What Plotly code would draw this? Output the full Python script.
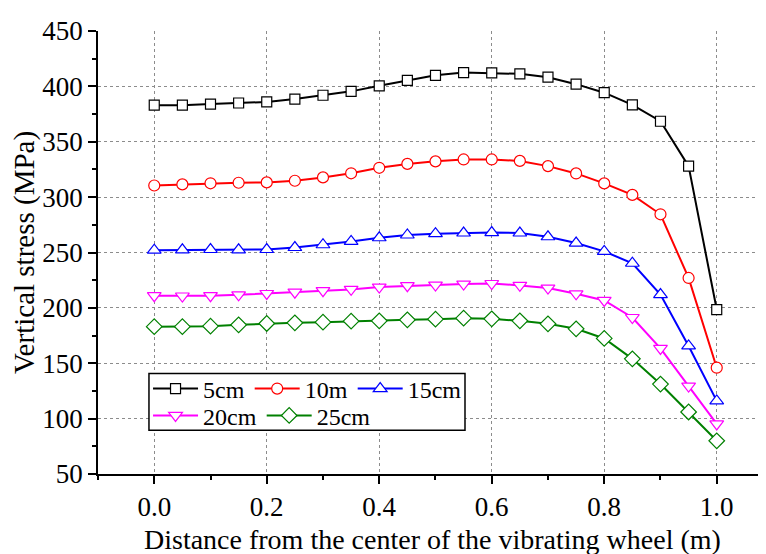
import plotly.graph_objects as go

distance = [0.0, 0.05, 0.1, 0.15, 0.2, 0.25, 0.3, 0.35, 0.4, 0.45, 0.5,
            0.55, 0.6, 0.65, 0.7, 0.75, 0.8, 0.85, 0.9, 0.95, 1.0]

s5cm = [383, 383, 384, 385, 386, 388.5, 392, 395.5, 400.5, 405.5, 410,
        412.5, 412.2, 411.3, 408.3, 402, 394.3, 383.3, 368.5, 328, 198.5]
s10m = [310.5, 311.5, 312.5, 313, 313.3, 314.8, 317.8, 321.5, 326.5, 330, 332.3,
        334, 334, 332.7, 328, 321.4, 312.4, 302, 284.5, 227, 146]
s15cm = [252.1, 252.4, 252.7, 252.4, 252.7, 254.5, 257, 260, 263.3, 265.8, 267,
         267.6, 268, 267.6, 264.2, 258.5, 251, 240.3, 212, 165.6, 116]
s20cm = [211, 210.7, 211, 211.8, 213, 214.2, 215.5, 216.7, 218.8, 220, 220.6,
         221.5, 222, 220.3, 217.9, 212.7, 206.7, 191.3, 163.4, 129.4, 95.2]
s25cm = [183, 183, 183.5, 184.7, 185.9, 186.5, 187.1, 188, 188.3, 189.2, 189.8,
         190.7, 190.1, 188.3, 185.6, 181.1, 172.4, 154, 131.2, 106, 80]

series_names = ["5cm", "10m", "15cm", "20cm", "25cm"]
series_values = [s5cm, s10m, s15cm, s20cm, s25cm]
series_colors = ["#000000", "#FF0000", "#0000FF", "#FF00FF", "#008000"]
series_symbols = ["square", "circle", "triangle-up", "triangle-down", "diamond"]
series_sizes = [10, 11, 12, 12, 12]
series_legend = ["legend", "legend", "legend", "legend2", "legend2"]

x_ticks = [0.0, 0.2, 0.4, 0.6, 0.8, 1.0]
x_ticklabels = ["0.0", "0.2", "0.4", "0.6", "0.8", "1.0"]
y_ticks = [50, 100, 150, 200, 250, 300, 350, 400, 450]
x_title = "Distance from the center of the vibrating wheel (m)"
y_title = "Vertical stress (MPa)"

FONT = "Liberation Serif, Times New Roman, serif"

fig = go.Figure()
for name, vals, col, sym, sz, lg in zip(series_names, series_values, series_colors,
                                         series_symbols, series_sizes, series_legend):
    fig.add_trace(go.Scatter(
        x=distance, y=vals, name=name, mode="lines+markers",
        line=dict(color=col, width=2),
        marker=dict(symbol=sym, size=sz, color="white",
                    line=dict(color=col, width=1.2)),
        legend=lg,
    ))

grid = dict(showgrid=True, gridcolor="#8c8c8c", gridwidth=1, griddash="3px,3px")

fig.update_layout(
    width=766, height=554,
    margin=dict(l=90, r=8, t=21, b=88),
    paper_bgcolor="white", plot_bgcolor="white",
    font=dict(family=FONT, size=27, color="black"),
    xaxis=dict(
        range=[-0.1, 1.0876], tickvals=x_ticks, ticktext=x_ticklabels,
        ticks="outside", ticklen=8, tickwidth=1.5, tickcolor="black",
        tickfont=dict(size=27),
        showline=True, linecolor="black", linewidth=1.5,
        minor=dict(dtick=0.1, tick0=0, ticks="outside", ticklen=4,
                   tickwidth=1.5, tickcolor="black", showgrid=False),
        zeroline=False, **grid,
    ),
    xaxis2=dict(
        overlaying="x", side="top", anchor="y", matches="x",
        range=[-0.1, 1.0876], tickvals=x_ticks, ticks="inside", ticklen=8,
        tickwidth=1.5, tickcolor="black", showticklabels=False,
        showline=True, linecolor="black", linewidth=1.5, showgrid=False,
        zeroline=False,
    ),
    yaxis=dict(
        range=[50, 450], tickvals=y_ticks,
        ticks="outside", ticklen=8, tickwidth=1.5, tickcolor="black",
        tickfont=dict(size=27),
        showline=True, linecolor="black", linewidth=1.5,
        minor=dict(dtick=25, tick0=0, ticks="outside", ticklen=4,
                   tickwidth=1.5, tickcolor="black", showgrid=False),
        title=dict(text=y_title, font=dict(size=29), standoff=6),
        zeroline=False, **grid,
    ),
    annotations=[dict(text=x_title, xref="paper", yref="paper", x=0.5, y=-0.1483,
                      xanchor="center", yanchor="middle", showarrow=False,
                      font=dict(family=FONT, size=28, color="black"))],
    legend=dict(
        orientation="h", x=0.0749, y=0.2427, xanchor="left", yanchor="top",
        bgcolor="rgba(0,0,0,0)", borderwidth=0, itemwidth=45,
        font=dict(family=FONT, size=24), itemclick=False,
    ),
    legend2=dict(
        orientation="h", x=0.0749, y=0.182, xanchor="left", yanchor="top",
        bgcolor="rgba(0,0,0,0)", borderwidth=0, itemwidth=45,
        font=dict(family=FONT, size=24), itemclick=False,
    ),
    shapes=[dict(type="rect", xref="paper", yref="paper",
                 x0=0.0763, x1=0.5494, y0=0.0989, y1=0.227,
                 line=dict(color="black", width=1.5), fillcolor="white",
                 layer="above")],
    showlegend=True,
)

fig.write_html("out.html")
